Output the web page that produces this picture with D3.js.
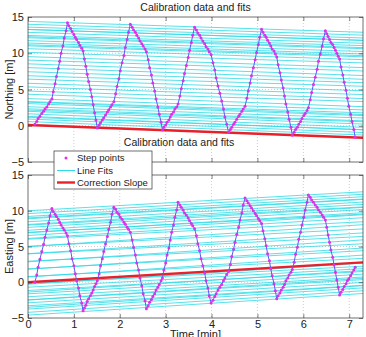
<!DOCTYPE html>
<html>
<head>
<meta charset="utf-8">
<script src="https://cdn.jsdelivr.net/npm/d3@7"></script>
<style>
  body { margin: 0; background: #fff; }
  svg { display: block; }
</style>
</head>
<body>
<script>

// step points (time in minutes, positions in metres)
var stepTime = [0.15,
  0.19,0.22,0.26,0.30,0.34,0.37,0.41,0.45,0.48,0.52, 0.55,0.59,0.62,0.66,0.69,0.72,0.76,0.79,0.83,0.86,
  0.89,0.93,0.96,1.00,1.03,1.06,1.10,1.13,1.17,1.20, 1.23,1.26,1.29,1.32,1.36,1.39,1.42,1.45,1.48,1.51,
  1.55,1.58,1.62,1.65,1.69,1.73,1.76,1.80,1.83,1.87, 1.91,1.94,1.98,2.01,2.05,2.09,2.12,2.16,2.19,2.23,
  2.27,2.30,2.34,2.37,2.41,2.44,2.48,2.51,2.55,2.58, 2.62,2.65,2.69,2.72,2.76,2.79,2.83,2.86,2.90,2.93,
  2.96,3.00,3.03,3.07,3.10,3.13,3.17,3.20,3.24,3.27, 3.31,3.34,3.38,3.41,3.45,3.49,3.52,3.56,3.59,3.63,
  3.67,3.70,3.74,3.77,3.81,3.85,3.88,3.92,3.95,3.99, 4.03,4.07,4.10,4.14,4.18,4.22,4.26,4.29,4.33,4.37,
  4.41,4.44,4.48,4.51,4.55,4.59,4.62,4.66,4.69,4.73, 4.77,4.80,4.84,4.87,4.91,4.95,4.98,5.02,5.05,5.09,
  5.12,5.16,5.19,5.22,5.26,5.29,5.32,5.36,5.39,5.42, 5.45,5.49,5.52,5.56,5.59,5.62,5.66,5.69,5.73,5.76,
  5.80,5.83,5.87,5.90,5.94,5.97,6.01,6.04,6.08,6.11, 6.15,6.18,6.22,6.26,6.30,6.33,6.37,6.41,6.44,6.48,
  6.51,6.54,6.57,6.60,6.64,6.67,6.70,6.73,6.76,6.79, 6.82,6.86,6.89,6.93,6.96,6.99,7.03,7.06,7.10,7.13];

var stepNorth = [0.2,
  0.6,1.0,1.3,1.7,2.0,2.3,2.6,3.0,3.3,3.7, 4.7,5.8,6.8,7.9,8.9,10.0,11.0,12.1,13.1,14.2,
  13.8,13.4,13.0,12.6,12.2,11.9,11.5,11.1,10.7,10.3, 9.2,8.2,7.1,6.1,5.0,4.0,2.9,1.8,0.8,-0.3,
  0.1,0.4,0.8,1.1,1.5,1.9,2.2,2.6,2.9,3.3, 4.4,5.4,6.5,7.6,8.7,9.7,10.8,11.9,12.9,14.0,
  13.6,13.2,12.9,12.5,12.1,11.7,11.3,11.0,10.6,10.2, 9.1,8.0,7.0,5.9,4.8,3.7,2.6,1.6,0.5,-0.6,
  -0.2,0.1,0.5,0.8,1.2,1.6,1.9,2.3,2.6,3.0, 4.1,5.1,6.2,7.2,8.3,9.4,10.4,11.5,12.5,13.6,
  13.2,12.8,12.5,12.1,11.7,11.3,10.9,10.6,10.2,9.8, 8.7,7.7,6.6,5.5,4.5,3.4,2.3,1.2,0.2,-0.9,
  -0.5,-0.2,0.2,0.5,0.9,1.3,1.6,2.0,2.3,2.7, 3.8,4.8,5.9,6.9,8.0,9.1,10.1,11.2,12.2,13.3,
  12.9,12.5,12.2,11.8,11.4,11.0,10.6,10.3,9.9,9.5, 8.4,7.3,6.3,5.2,4.1,3.0,1.9,0.9,-0.2,-1.3,
  -0.9,-0.5,-0.2,0.2,0.6,1.0,1.4,1.7,2.1,2.5, 3.6,4.6,5.7,6.7,7.8,8.9,9.9,11.0,12.0,13.1,
  12.7,12.3,11.9,11.5,11.2,10.8,10.4,10.0,9.6,9.2, 8.1,7.0,6.0,4.9,3.8,2.7,1.6,0.6,-0.5,-1.6];

var stepEast = [0.0,
  1.0,2.1,3.2,4.3,5.3,6.3,7.3,8.3,9.3,10.3, 9.9,9.5,9.2,8.8,8.4,8.0,7.6,7.3,6.9,6.5,
  5.4,4.4,3.3,2.3,1.2,0.2,-0.8,-1.9,-2.9,-4.0, -3.6,-3.2,-2.7,-2.3,-1.9,-1.5,-1.1,-0.6,-0.2,0.2,
  1.2,2.3,3.3,4.3,5.4,6.4,7.4,8.4,9.5,10.5, 10.2,9.8,9.5,9.1,8.8,8.4,8.1,7.7,7.4,7.0,
  5.9,4.9,3.8,2.7,1.7,0.6,-0.5,-1.6,-2.6,-3.7, -3.3,-2.8,-2.4,-2.0,-1.6,-1.1,-0.7,-0.3,0.2,0.6,
  1.7,2.7,3.8,4.8,5.9,7.0,8.0,9.1,10.1,11.2, 10.8,10.5,10.1,9.7,9.4,9.0,8.6,8.2,7.9,7.5,
  6.5,5.4,4.4,3.3,2.3,1.3,0.2,-0.8,-1.9,-2.9, -2.5,-2.0,-1.6,-1.1,-0.7,-0.3,0.2,0.6,1.1,1.5,
  2.5,3.6,4.6,5.6,6.7,7.7,8.7,9.7,10.8,11.8, 11.4,11.1,10.7,10.4,10.0,9.6,9.3,8.9,8.6,8.2,
  7.2,6.1,5.1,4.0,3.0,1.9,0.9,-0.2,-1.2,-2.3, -1.9,-1.5,-1.1,-0.7,-0.3,0.2,0.6,1.0,1.4,1.8,
  2.8,3.9,4.9,6.0,7.0,8.0,9.1,10.1,11.2,12.2, 11.9,11.5,11.2,10.8,10.5,10.1,9.8,9.4,9.1,8.7,
  7.7,6.6,5.6,4.5,3.5,2.4,1.4,0.3,-0.7,-1.8, -1.4,-1.0,-0.6,-0.2,0.2,0.5,0.9,1.3,1.7,2.1];

// correction slope [intercept, slope per minute]
var northCorrection = [0.1, -0.24];
var eastCorrection = [0.0, 0.38];

var stepsPerLap = 40;
var timeDomain = [0, 7.3];
var valueDomain = [-5, 15];
var xTicks = [0, 1, 2, 3, 4, 5, 6, 7];
var yTicks = [-5, 0, 5, 10, 15];
var titles = ["Calibration data and fits", "Calibration data and fits"];
var legendLabels = ["Step points", "Line Fits", "Correction Slope"];

var width = 366, height = 337
  , left = 28, right = 363
  , fitColor = "#2cdbe6"
  , dotColor = "#e030e8"
  , redColor = "#e8202a"
  , font = "'Liberation Sans', Arial, Helvetica, sans-serif"

var svg = d3.select("body").append("svg")
    .attr("width", width)
    .attr("height", height)
    .style("font-family", font);

var x = d3.scaleLinear().domain(timeDomain).range([left, right]);

// least squares line through the points taken at the same step of each lap
function lapFits(values) {
  var groups = d3.range(stepsPerLap).map(function() { return []; });
  values.forEach(function(v, i) {
    groups[(i + stepsPerLap - 1) % stepsPerLap].push([stepTime[i], v]);
  });
  return groups.map(function(g) {
    var mt = d3.mean(g, function(d) { return d[0]; })
      , mv = d3.mean(g, function(d) { return d[1]; })
      , sxy = d3.sum(g, function(d) { return (d[0] - mt) * (d[1] - mv); })
      , sxx = d3.sum(g, function(d) { return (d[0] - mt) * (d[0] - mt); })
      , b = sxy / sxx;
    return [mv - b * mt, b];
  });
}

function panel(top, bottom, values, correction, label, showXLabels) {
  var y = d3.scaleLinear().domain(valueDomain).range([bottom, top]);
  var g = svg.append("g");

  // dotted grid
  g.selectAll(".gx").data(xTicks.slice(1)).enter().append("line")
    .attr("x1", function(d) { return x(d); }).attr("x2", function(d) { return x(d); })
    .attr("y1", top).attr("y2", bottom)
    .style("stroke", "#aaa").style("stroke-width", 0.6).style("stroke-dasharray", "1,2");
  g.selectAll(".gy").data(yTicks.slice(1, -1)).enter().append("line")
    .attr("x1", left).attr("x2", right)
    .attr("y1", function(d) { return y(d); }).attr("y2", function(d) { return y(d); })
    .style("stroke", "#aaa").style("stroke-width", 0.6).style("stroke-dasharray", "1,2");

  // line fits
  g.selectAll(".fit").data(lapFits(values)).enter().append("line")
    .attr("x1", x(timeDomain[0]))
    .attr("x2", x(timeDomain[1]))
    .attr("y1", function(d) { return y(d[0] + d[1] * timeDomain[0]); })
    .attr("y2", function(d) { return y(d[0] + d[1] * timeDomain[1]); })
    .style("stroke", fitColor)
    .style("stroke-width", 0.8);

  // correction slope
  g.append("line")
    .attr("x1", x(timeDomain[0])).attr("x2", x(timeDomain[1]))
    .attr("y1", y(correction[0] + correction[1] * timeDomain[0]))
    .attr("y2", y(correction[0] + correction[1] * timeDomain[1]))
    .style("stroke", redColor)
    .style("stroke-width", 2.4);

  // step points
  var pts = values.map(function(v, i) { return [stepTime[i], v]; });
  g.append("path")
    .datum(pts)
    .attr("d", d3.line().x(function(d) { return x(d[0]); }).y(function(d) { return y(d[1]); }))
    .style("fill", "none")
    .style("stroke", "#5060f0")
    .style("stroke-width", 1);
  g.selectAll(".dot").data(pts).enter().append("circle")
    .attr("cx", function(d) { return x(d[0]); })
    .attr("cy", function(d) { return y(d[1]); })
    .attr("r", 1.5)
    .style("fill", dotColor);

  // axes, MATLAB style ticks inside the box
  var ax = [
    d3.axisLeft(y).tickValues(yTicks).tickSize(-4).tickPadding(4),
    d3.axisRight(y).tickValues(yTicks).tickSize(-4).tickFormat(""),
    d3.axisTop(x).tickValues(xTicks).tickSize(-4).tickFormat(""),
    d3.axisBottom(x).tickValues(xTicks).tickSize(-4).tickPadding(2)
  ];
  if (!showXLabels) ax[3].tickFormat("");
  var pos = ["translate(" + left + ",0)", "translate(" + right + ",0)",
             "translate(0," + top + ")", "translate(0," + bottom + ")"];
  ax.forEach(function(a, i) {
    var s = g.append("g").attr("transform", pos[i]).call(a);
    s.select(".domain").remove();
    s.selectAll("line").style("stroke", "#333").style("stroke-width", 0.6);
    s.selectAll("text").style("font-family", font).style("font-size", "11px").style("fill", "#222");
  });

  g.append("rect")
    .attr("x", left).attr("y", top)
    .attr("width", right - left).attr("height", bottom - top)
    .style("fill", "none").style("stroke", "#333").style("stroke-width", 0.7);

  g.append("text")
    .attr("transform", "translate(9," + ((top + bottom) / 2) + ")rotate(-90)")
    .attr("dy", "0.35em")
    .attr("text-anchor", "middle")
    .style("font-size", "11px")
    .style("fill", "#222")
    .text(label);
}

panel(17, 162, stepNorth, northCorrection, "Northing [m]", false);
panel(175, 318, stepEast, eastCorrection, "Easting [m]", true);

svg.append("text")
  .attr("x", (left + right) / 2).attr("y", 11)
  .attr("text-anchor", "middle")
  .style("font-size", "10.5px").style("fill", "#222")
  .text(titles[0]);

svg.append("text")
  .attr("x", 179).attr("y", 146)
  .attr("text-anchor", "middle")
  .style("font-size", "10.5px").style("fill", "#222")
  .text(titles[1]);

svg.append("text")
  .attr("x", (left + right) / 2).attr("y", 338)
  .attr("text-anchor", "middle")
  .style("font-size", "11px").style("fill", "#222")
  .text("Time [min]");

// legend
var lg = svg.append("g").attr("transform", "translate(54,151)");
lg.append("rect")
  .attr("width", 98).attr("height", 38)
  .style("fill", "#fff").style("stroke", "#333").style("stroke-width", 0.7);
lg.append("circle").attr("cx", 12).attr("cy", 7).attr("r", 1.5).style("fill", dotColor);
lg.append("line").attr("x1", 3).attr("x2", 21).attr("y1", 19.5).attr("y2", 19.5)
  .style("stroke", fitColor).style("stroke-width", 1);
lg.append("line").attr("x1", 3).attr("x2", 21).attr("y1", 31.5).attr("y2", 31.5)
  .style("stroke", redColor).style("stroke-width", 2.4);
lg.selectAll(".lt").data(legendLabels).enter().append("text")
  .attr("x", 23)
  .attr("y", function(d, i) { return 7 + i * 12.3; })
  .attr("dy", "0.35em")
  .style("font-size", "9.5px").style("fill", "#222")
  .text(function(d) { return d; });

</script>
</body>
</html>
